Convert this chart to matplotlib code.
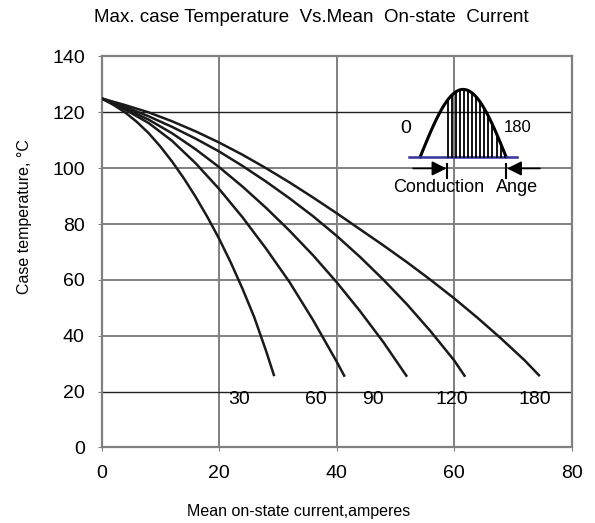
import numpy as np
import matplotlib
matplotlib.use("Agg")
import matplotlib.pyplot as plt
from matplotlib.patches import FancyArrowPatch

plt.rcParams['font.family'] = ['Liberation Sans', 'DejaVu Sans']

# curves: mean current (A) vs max case temperature (C)
x30 = [0, 2, 4, 6, 8, 10, 12, 14, 16, 18, 20, 22, 24, 26, 28, 29.4]
y30 = [125, 122.7, 120, 116.6, 112.6, 107.8, 102.4, 96.4, 89.8, 82.6,
       74.8, 66.2, 56.8, 46.6, 34.6, 25.5]
x60 = [0, 4, 8, 12, 16, 20, 24, 28, 32, 36, 40, 41.4]
y60 = [125, 121, 116.2, 109.8, 101.8, 92.6, 82.4, 71.2, 59.2, 45.6, 30.8, 25.3]
x90 = [0, 4, 8, 12, 16, 20, 24, 28, 32, 36, 40, 44, 48, 52]
y90 = [125, 121.4, 117.4, 112.5, 106.8, 100.4, 93.4, 85.8, 77.6, 68.8,
       59.2, 48.8, 37.6, 25.3]
x120 = [0, 4, 8, 12, 16, 20, 24, 28, 32, 36, 40, 44, 48, 52, 56, 60, 61.9]
y120 = [125, 122, 118.6, 114.8, 110.6, 106, 100.8, 95.2, 89.2, 82.8, 75.8,
        68.2, 60, 51.2, 41.6, 31.2, 25.3]
x180 = [0, 4, 8, 12, 16, 20, 24, 28, 32, 36, 40, 44, 48, 52, 56, 60, 64, 68,
        72, 74.6]
y180 = [125, 122.6, 120, 116.8, 113.2, 109.2, 104.8, 100, 94.9, 89.5, 83.9,
        78.1, 72.3, 66.3, 60, 53.4, 46.4, 39, 31.2, 25.5]

angles = ["30", "60", "90", "120", "180"]
label_x = [23.5, 36.5, 46.2, 59.7, 73.8]
label_y = 17

fig = plt.figure(figsize=(5.95, 5.23), dpi=100)
ax = fig.add_axes([0.1706, 0.1446, 0.790, 0.7474])

grey = "#808080"
ax.set_xlim(0, 80)
ax.set_ylim(0, 140)
ax.set_xticks([0, 20, 40, 60, 80])
ax.set_yticks(range(0, 141, 20))
for v in [20, 40, 60]:
    ax.axvline(v, color=grey, lw=1.4, zorder=1)
for v in [40, 60, 80, 100]:
    ax.axhline(v, color=grey, lw=1.4, zorder=1)
for v in [20, 120]:
    ax.axhline(v, color="#202020", lw=1.0, zorder=1)
for s in ax.spines.values():
    s.set_color(grey)
    s.set_linewidth(1.6)
ax.tick_params(direction="out", length=3, color=grey, labelsize=14)
ax.tick_params(axis="y", pad=9)
ax.tick_params(axis="x", pad=10)

for xs, ys in [(x30, y30), (x60, y60), (x90, y90), (x120, y120), (x180, y180)]:
    ax.plot(xs, ys, color="#1a1a1a", lw=1.8, zorder=3, solid_capstyle="butt",
            solid_joinstyle="round")

for lab, lx in zip(angles, label_x):
    ax.text(lx, label_y, lab, ha="center", va="center", fontsize=14, zorder=4)

ax.set_xlabel("Mean on-state current,amperes", fontsize=11.5)
ax.xaxis.set_label_coords(0.42, -0.145)
ax.set_ylabel("Case temperature, \u00b0C", fontsize=11.5)
ax.yaxis.set_label_coords(-0.148, 0.59)
fig.text(0.523, 0.966, "Max. case Temperature  Vs.Mean  On-state  Current",
         ha="center", va="center", fontsize=13.5)

# conduction angle sketch
ins = ax.inset_axes([48.3, 83.9, 28.2, 48.7], transform=ax.transData, zorder=5)
ins.set_xlim(-73.3, 274.2)
ins.set_ylim(-0.835, 1.182)
ins.axis("off")
ins.patch.set_visible(True)
ins.set_facecolor("white")
deg = np.linspace(0, 180, 91)
ins.plot(deg, np.sin(np.radians(deg)), color="black", lw=2.2)
ins.plot([-23, 203], [0, 0], color="#33339a", lw=1.8)
for d in np.arange(58, 180, 8.5):
    ins.plot([d, d], [0, np.sin(np.radians(d))], color="black", lw=1.3)
ins.text(-31, 0.42, "0", ha="center", va="center", fontsize=14)
ins.text(205, 0.43, "180", ha="center", va="center", fontsize=12)
ay = -0.172
ins.add_patch(FancyArrowPatch((-15, ay), (55, ay), arrowstyle="-|>",
                              mutation_scale=22, color="black", lw=1.2,
                              shrinkA=0, shrinkB=0))
ins.plot([57, 57], [-0.11, -0.32], color="black", lw=1.5)
ins.add_patch(FancyArrowPatch((251, ay), (182, ay), arrowstyle="-|>",
                              mutation_scale=22, color="black", lw=1.2,
                              shrinkA=0, shrinkB=0))
ins.plot([180, 180], [-0.11, -0.32], color="black", lw=1.5)
ins.text(38.5, -0.45, "Conduction", ha="center", va="center", fontsize=13)
ins.text(203, -0.45, "Ange", ha="center", va="center", fontsize=13)

fig.savefig("out.png", dpi=100)
